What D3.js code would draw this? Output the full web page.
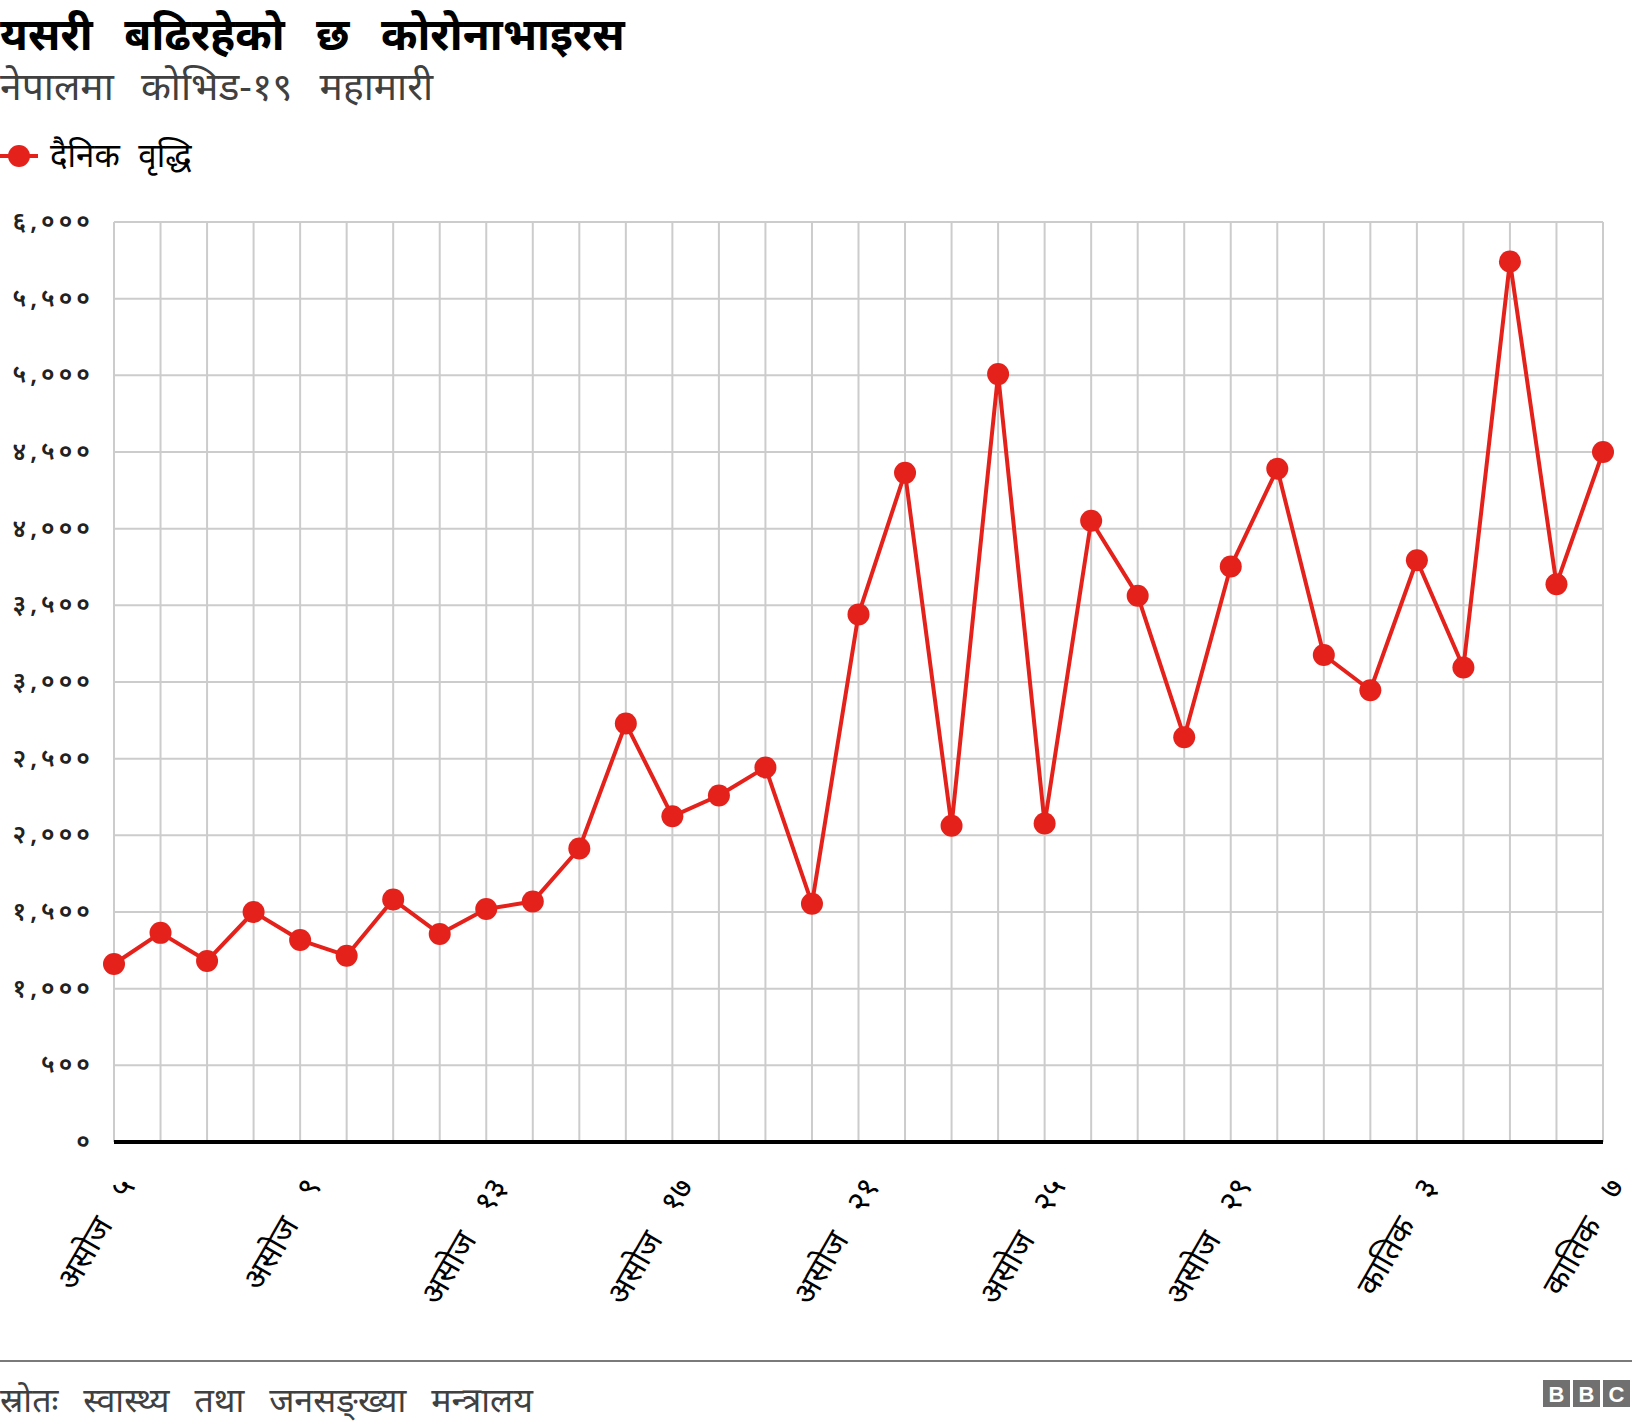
<!DOCTYPE html>
<html>
<head>
<meta charset="utf-8">
<script src="https://cdn.jsdelivr.net/npm/d3@7"></script>
<style>
  body { margin: 0; background: #fff; font-family: "Noto Sans", "Noto Sans Devanagari", sans-serif; }
</style>
</head>
<body>
<svg id="chart" width="1632" height="1428"></svg>
<script>
// daily new cases, Asoj 5 .. Kartik 7
const days = ["असोज ५","असोज ६","असोज ७","असोज ८","असोज ९","असोज १०","असोज ११","असोज १२",
  "असोज १३","असोज १४","असोज १५","असोज १६","असोज १७","असोज १८","असोज १९","असोज २०",
  "असोज २१","असोज २२","असोज २३","असोज २४","असोज २५","असोज २६","असोज २७","असोज २८",
  "असोज २९","असोज ३०","कातिक १","कातिक २","कातिक ३","कातिक ४","कातिक ५","कातिक ६","कातिक ७"];
const dailyCases = [1161,1364,1181,1500,1317,1215,1581,1357,1520,1568,1914,2729,2124,2260,2443,1554,
  3441,4364,2063,5008,2077,4052,3563,2640,3753,4391,3176,2946,3794,3095,5743,3638,4500];
const yTicks = [0,500,1000,1500,2000,2500,3000,3500,4000,4500,5000,5500,6000];
const xLabelIdx = [0,4,8,12,16,20,24,28,32];

const devDigits = "०१२३४५६७८९";
const toDev = s => String(s).replace(/[0-9]/g, c => devDigits[+c]);

const svg = d3.select("#chart");
const red = "#e4221b";
const plotL = 114, plotR = 1603, plotT = 222, plotB = 1142;

const x = d3.scalePoint().domain(d3.range(days.length)).range([plotL, plotR]);
const y = d3.scaleLinear().domain([0, 6000]).range([plotB, plotT]);

// titles
svg.append("text").attr("x", 0).attr("y", 50)
  .attr("font-size", 44).attr("font-weight", "bold").attr("fill", "#000")
  .attr("word-spacing", 20)
  .text("यसरी बढिरहेको छ कोरोनाभाइरस");
svg.append("text").attr("x", 0).attr("y", 100)
  .attr("font-size", 39).attr("fill", "#404040")
  .attr("word-spacing", 17)
  .text("नेपालमा कोभिड-१९ महामारी");

// legend
const lg = svg.append("g").attr("transform", "translate(0,156)");
lg.append("line").attr("x1", 0).attr("x2", 38).attr("stroke", red).attr("stroke-width", 4);
lg.append("circle").attr("cx", 19).attr("r", 11).attr("fill", red);
lg.append("text").attr("x", 50).attr("y", 11).attr("font-size", 33).attr("fill", "#000")
  .attr("word-spacing", 10).text("दैनिक वृद्धि");

// grid
const grid = svg.append("g");
grid.selectAll(".hg").data(yTicks.filter(d => d > 0)).join("line")
  .attr("x1", plotL).attr("x2", plotR)
  .attr("y1", d => y(d)).attr("y2", d => y(d))
  .attr("stroke", "#cccccc").attr("stroke-width", 2);
grid.selectAll(".vg").data(d3.range(days.length)).join("line")
  .attr("x1", d => x(d)).attr("x2", d => x(d))
  .attr("y1", plotT).attr("y2", plotB)
  .attr("stroke", "#cccccc").attr("stroke-width", 2);

// y axis labels
svg.append("g").selectAll("text").data(yTicks).join("text")
  .attr("x", 94).attr("y", d => y(d) + 8)
  .attr("text-anchor", "end").attr("font-size", 25).attr("letter-spacing", 4)
  .attr("font-weight", 600).attr("fill", "#222")
  .text(d => toDev(d3.format(",")(d)));

// baseline
svg.append("line").attr("x1", plotL).attr("x2", plotR)
  .attr("y1", plotB).attr("y2", plotB)
  .attr("stroke", "#000").attr("stroke-width", 4);

// x labels
svg.append("g").selectAll("text").data(xLabelIdx).join("text")
  .attr("transform", d => `translate(${x(d) + 22},${plotB + 44}) rotate(-60)`)
  .attr("text-anchor", "end").attr("font-size", 32).attr("fill", "#000")
  .attr("word-spacing", 20)
  .text(d => days[d]);

// line + dots
const line = d3.line().x((d, i) => x(i)).y(d => y(d));
svg.append("path").datum(dailyCases)
  .attr("fill", "none").attr("stroke", red).attr("stroke-width", 4)
  .attr("stroke-linejoin", "round")
  .attr("d", line);
svg.append("g").selectAll("circle").data(dailyCases).join("circle")
  .attr("cx", (d, i) => x(i)).attr("cy", d => y(d)).attr("r", 11)
  .attr("fill", red);

// footer
svg.append("line").attr("x1", 0).attr("x2", 1632).attr("y1", 1361).attr("y2", 1361)
  .attr("stroke", "#7a7a7a").attr("stroke-width", 2);
svg.append("text").attr("x", 0).attr("y", 1412)
  .attr("font-size", 34).attr("fill", "#404040").attr("word-spacing", 16)
  .text("स्रोतः स्वास्थ्य तथा जनसङ्ख्या मन्त्रालय");
const bbc = svg.append("g").attr("transform", "translate(1543,1380)");
["B","B","C"].forEach((c, i) => {
  bbc.append("rect").attr("x", i * 30).attr("width", 27).attr("height", 27).attr("fill", "#707070");
  bbc.append("text").attr("x", i * 30 + 13.5).attr("y", 22).attr("text-anchor", "middle")
    .attr("font-size", 22).attr("font-weight", "bold").attr("fill", "#fff")
    .attr("font-family", "Liberation Sans, sans-serif").text(c);
});
</script>
</body>
</html>
